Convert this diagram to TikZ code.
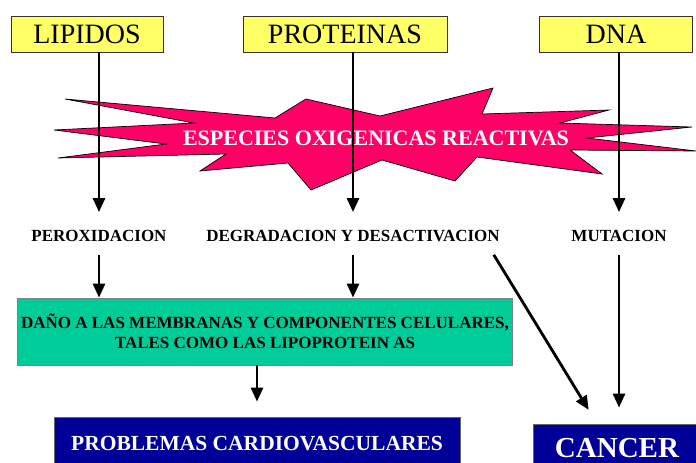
\documentclass[tikz,border=0pt]{standalone}
\usepackage{fontspec}
\setmainfont{Liberation Serif}
\usetikzlibrary{shapes.geometric, arrows, arrows.meta}
\definecolor{boxyellow}{HTML}{FFFF66}
\definecolor{starpink}{HTML}{FF0066}
\definecolor{boxgreen}{HTML}{00CC99}
\definecolor{boxblue}{HTML}{000099}
\tikzstyle{arrow} = [line width=2.8pt,->,>={Triangle[length=14pt,width=12pt]}]

\begin{document}
\begin{tikzpicture}[x=1pt, y=-1pt,
    topbox/.style={draw=black!80, line width=0.8pt, fill=boxyellow, minimum height=36pt, inner sep=0pt, font=\fontsize{28}{30}\selectfont},
    effect/.style={inner sep=0pt, font=\fontsize{17}{19}\selectfont\bfseries},
    bluebox/.style={draw=black!60, line width=0.8pt, fill=boxblue, text=white, inner sep=0pt}]
        \useasboundingbox (0,0) rectangle (696,463);

        % Sources
        \node[topbox, minimum width=152pt] (lipidos) at (87,34) {LIPIDOS};
        \node[topbox, minimum width=204pt] (proteinas) at (345,34) {PROTEINAS};
        \node[topbox, minimum width=153pt] (dna) at (616,34) {DNA};

        % Star
        \draw[fill=starpink, line width=0.7pt] (65,99) -- (275,118) -- (306,99) -- (380,116) -- (493,88)
            -- (482,114) -- (609,110) -- (560,123) -- (692,127) -- (587,138) -- (696,151)
            -- (570,150) -- (602,174) -- (477,157) -- (455,181) -- (382,160) -- (311,190)
            -- (288,163) -- (200,171) -- (226,154) -- (58,158) -- (166,144) -- (54,130)
            -- (194,123) -- cycle;
        \node[text=white, font=\fontsize{22}{24}\selectfont\bfseries] (ros) at (376,138) {ESPECIES OXIGENICAS REACTIVAS};

        % Effects
        \node[effect] (perox) at (99,236) {PEROXIDACION};
        \node[effect] (degrad) at (353,236) {DEGRADACION Y DESACTIVACION};
        \node[effect] (mutacion) at (619,236) {MUTACION};

        \node[draw=black!50, line width=0.8pt, fill=boxgreen, minimum width=494pt, minimum height=67pt, align=center,
              font=\fontsize{17}{20}\selectfont\bfseries] (dano) at (265,331.5)
              {DAÑO A LAS MEMBRANAS Y COMPONENTES CELULARES,\\TALES COMO LAS LIPOPROTEIN AS};

        \node[bluebox, minimum width=406pt, minimum height=54pt, font=\fontsize{21.5}{24}\selectfont\bfseries] (problemas) at (257,444) {PROBLEMAS CARDIOVASCULARES};
        \node[bluebox, minimum width=168pt, minimum height=48pt, font=\fontsize{29}{32}\selectfont\bfseries] (cancer) at (617,448) {CANCER};

        \draw[arrow, shorten >=18pt] (lipidos.south -| perox.north) -- (perox.north);
        \draw[arrow, shorten >=18pt] (proteinas.south -| degrad.north) -- (degrad.north);
        \draw[arrow, shorten >=18pt] (dna.south -| mutacion.north) -- (mutacion.north);

        \draw[arrow, shorten <=13pt] (perox.south) -- (perox.south |- dano.north);
        \draw[arrow, shorten <=13pt] (degrad.south) -- (degrad.south |- dano.north);
        \draw[arrow, shorten >=15pt] (problemas.north |- dano.south) -- (problemas.north);

        \draw[arrow, shorten <=15pt, shorten >=16pt] ([xshift=-14pt]degrad.south east) -- ([xshift=-20pt]cancer.north);
        \draw[arrow, shorten <=13pt, shorten >=16pt] (mutacion.south) -- (mutacion.south |- cancer.north);
      \end{tikzpicture}
\end{document}
